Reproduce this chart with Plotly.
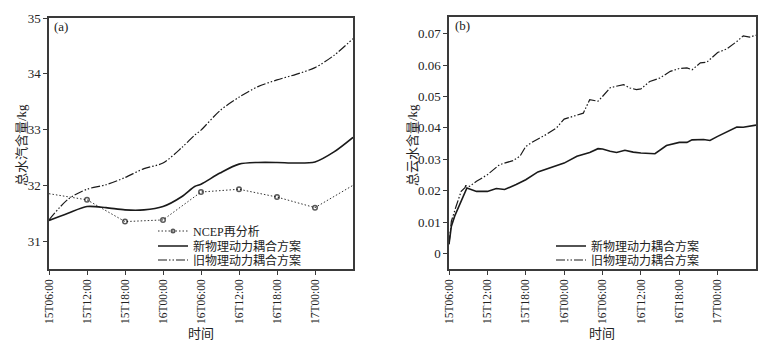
import plotly.graph_objects as go

# ---- data ----
tick_hours = [0, 6, 12, 18, 24, 30, 36, 42]
tick_labels = ["15T06:00", "15T12:00", "15T18:00", "16T00:00",
               "16T06:00", "16T12:00", "16T18:00", "17T00:00"]

# panel (a): total water vapour (kg)
ncep_hours = [0, 6, 12, 18, 24, 30, 36, 42, 48]
ncep_vals = [31.85, 31.74, 31.35, 31.38, 31.88, 31.93, 31.79, 31.60, 32.00]
ncep_marker_size = [0, 4.5, 4.5, 4.5, 4.5, 4.5, 4.5, 4.5, 0]

a_hours = [0, 3, 6, 9, 12, 15, 18, 21, 23, 24, 27, 30, 33, 36, 39, 42, 45, 48]
a_new = [31.37, 31.50, 31.62, 31.60, 31.56, 31.56, 31.62, 31.80, 31.98, 32.02,
         32.22, 32.38, 32.41, 32.41, 32.40, 32.42, 32.60, 32.86]
a_old = [31.38, 31.75, 31.93, 32.01, 32.14, 32.30, 32.40, 32.68, 32.90, 32.99,
         33.34, 33.58, 33.77, 33.89, 33.99, 34.11, 34.33, 34.63]

# panel (b): total cloud water (kg)
b_new_hours = [0, 0.37, 0.9, 1.7, 2.2, 2.8, 4.3, 6, 7.4, 8.7, 10.5, 12, 13.9,
               15.8, 18, 20, 22, 23.3, 24, 25.2, 26.2, 27.5, 28.8, 30, 30.9,
               32.2, 34, 36, 37.2, 38, 39.8, 40.8, 42, 43.4, 45, 46, 48]
b_new = [0.003, 0.0087, 0.012, 0.016, 0.018, 0.0209, 0.0198, 0.0198, 0.0207,
         0.0204, 0.022, 0.0235, 0.026, 0.0273, 0.0288, 0.031, 0.0322, 0.0334,
         0.0333, 0.0326, 0.0322, 0.0329, 0.0323, 0.032, 0.032, 0.0318, 0.0344,
         0.0354, 0.0354, 0.0362, 0.0363, 0.036, 0.0373, 0.0388, 0.0403, 0.0402,
         0.0409]
b_old_hours = [0, 0.37, 1.1, 1.9, 2.5, 2.6, 3.2, 4.3, 6, 7.9, 10, 11.1, 12,
               13.2, 15.2, 16.8, 18, 20, 21, 22, 23.3, 24, 25.2, 27.3, 28.3,
               29.3, 30, 31.4, 33, 34.6, 36, 37.2, 38, 39.3, 40.3, 42, 43.4,
               45, 46, 47, 48]
b_old = [0.003, 0.0103, 0.015, 0.0198, 0.021, 0.0216, 0.0214, 0.023, 0.0251,
         0.0283, 0.0296, 0.031, 0.0341, 0.0357, 0.0379, 0.040, 0.0428, 0.0442,
         0.0447, 0.049, 0.0485, 0.050, 0.0528, 0.0538, 0.0527, 0.0522, 0.0524,
         0.0548, 0.0559, 0.058, 0.0589, 0.0591, 0.0585, 0.0607, 0.0609, 0.064,
         0.0651, 0.0675, 0.0693, 0.0689, 0.0695]

# ---- style ----
FONT = "'Liberation Serif', 'Noto Sans CJK SC', serif"
INK = "#1a1a1a"
DASHDOTDOT = "9px,2px,1.5px,2px,1.5px,2px"

fig = go.Figure()

fig.add_trace(go.Scatter(
    x=ncep_hours, y=ncep_vals, name="NCEP再分析", mode="lines+markers",
    line=dict(color="#333", width=1, dash="1.5px,2px"),
    marker=dict(symbol="circle-open", size=ncep_marker_size, color="#111",
                line=dict(width=1.5)),
    xaxis="x", yaxis="y", legend="legend6"))
fig.add_trace(go.Scatter(
    x=a_hours, y=a_new, name="新物理动力耦合方案", mode="lines",
    line=dict(color=INK, width=1.6, shape="spline", smoothing=0.8),
    xaxis="x", yaxis="y", legend="legend3"))
fig.add_trace(go.Scatter(
    x=a_hours, y=a_old, name="旧物理动力耦合方案", mode="lines",
    line=dict(color=INK, width=1.2, dash=DASHDOTDOT, shape="spline", smoothing=0.8),
    xaxis="x", yaxis="y", legend="legend4"))

fig.add_trace(go.Scatter(
    x=b_new_hours, y=b_new, name="新物理动力耦合方案", mode="lines",
    line=dict(color=INK, width=1.6),
    xaxis="x2", yaxis="y2", legend="legend2"))
fig.add_trace(go.Scatter(
    x=b_old_hours, y=b_old, name="旧物理动力耦合方案", mode="lines",
    line=dict(color=INK, width=1.2, dash=DASHDOTDOT),
    xaxis="x2", yaxis="y2", legend="legend5"))

# the page places the figure 8px from the window's top-left (body margin)
OFF = 8
W, H = 769 - OFF, 346 - OFF
def px(v):
    return (v - OFF) / W
def py(v):
    return 1 - (v - OFF) / H

axis_common = dict(showgrid=False, zeroline=False, showline=True, mirror=True,
                   linecolor="#3a3a3a", linewidth=1.5, ticks="outside", ticklen=4,
                   tickcolor="#3a3a3a", automargin=False,
                   tickfont=dict(family=FONT, size=13, color="#222"))

xcommon = dict(axis_common, range=[0, 48], tickvals=tick_hours, ticktext=tick_labels,
               tickangle=-90, tickfont=dict(family=FONT, size=11.5, color="#222"))

def leg(x, y):
    return dict(x=px(x), y=py(y), xanchor="left", yanchor="middle",
                bgcolor="rgba(0,0,0,0)", font=dict(family=FONT, size=12, color="#222"),
                tracegroupgap=0, itemwidth=30)

title_font = dict(family=FONT, size=13, color="#222")

def note(text, x, y, angle=0, xanchor="center", yanchor="middle"):
    return dict(text=text, x=px(x), y=py(y), xref="paper", yref="paper",
                xanchor=xanchor, yanchor=yanchor, showarrow=False,
                textangle=angle, font=title_font)

fig.update_layout(
    width=W, height=H, margin=dict(l=0, r=0, t=0, b=0),
    paper_bgcolor="white", plot_bgcolor="white",
    font=dict(family=FONT, color="#222"),
    xaxis=dict(xcommon, domain=[px(49), px(353)], anchor="y"),
    yaxis=dict(axis_common, domain=[py(269), py(18)], anchor="x", range=[30.5, 35],
               tickvals=[31, 32, 33, 34, 35]),
    xaxis2=dict(xcommon, domain=[px(449), px(756)], anchor="y2"),
    yaxis2=dict(axis_common, domain=[py(269), py(17)], anchor="x2", range=[-0.0049, 0.0753],
                tickvals=[0, 0.01, 0.02, 0.03, 0.04, 0.05, 0.06, 0.07],
                ticktext=["0", "0.01", "0.02", "0.03", "0.04", "0.05", "0.06", "0.07"]),
    legend6=leg(153, 231),
    legend3=leg(153, 246),
    legend4=leg(153, 260),
    legend2=leg(551, 246),
    legend5=leg(551, 260),
    annotations=[
        note("(a)", 52, 17, xanchor="left", yanchor="top"),
        note("(b)", 453, 16, xanchor="left", yanchor="top"),
        note("时间", 201, 333),
        note("时间", 602, 333),
        note("总水汽含量/kg", 21, 145, angle=-90),
        note("总云水含量/kg", 412, 145, angle=-90),
    ],
)

fig.write_html("out.html")
